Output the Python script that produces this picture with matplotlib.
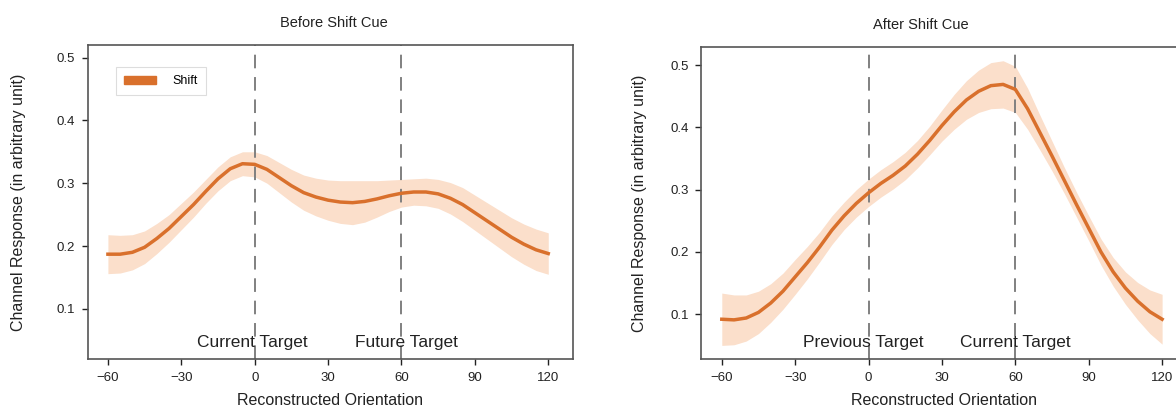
import matplotlib.pyplot as plt
from matplotlib.patches import Patch

plt.rcParams['font.family'] = ['Liberation Sans', 'DejaVu Sans']

orient = list(range(-60, 121, 5))

before_mean = [0.187, 0.187, 0.190, 0.198, 0.212, 0.228, 0.247, 0.266, 0.287, 0.307,
               0.323, 0.331, 0.330, 0.322, 0.309, 0.296, 0.285, 0.278, 0.273, 0.270,
               0.269, 0.271, 0.275, 0.280, 0.284, 0.286, 0.286, 0.283, 0.276, 0.266,
               0.253, 0.240, 0.227, 0.214, 0.203, 0.194, 0.188]
before_upper = [0.218, 0.217, 0.218, 0.224, 0.236, 0.250, 0.268, 0.286, 0.306, 0.326,
                0.342, 0.350, 0.350, 0.344, 0.333, 0.322, 0.313, 0.308, 0.305, 0.304,
                0.304, 0.304, 0.304, 0.305, 0.306, 0.307, 0.308, 0.306, 0.301, 0.293,
                0.281, 0.269, 0.257, 0.245, 0.235, 0.227, 0.221]
before_lower = [0.156, 0.157, 0.162, 0.172, 0.188, 0.206, 0.226, 0.246, 0.268, 0.288,
                0.304, 0.312, 0.310, 0.300, 0.285, 0.270, 0.257, 0.248, 0.241, 0.236,
                0.234, 0.238, 0.246, 0.255, 0.262, 0.265, 0.264, 0.260, 0.251, 0.239,
                0.225, 0.211, 0.197, 0.183, 0.171, 0.161, 0.155]

after_mean = [0.092, 0.091, 0.094, 0.103, 0.118, 0.137, 0.160, 0.183, 0.208, 0.235,
              0.258, 0.278, 0.295, 0.310, 0.323, 0.338, 0.357, 0.379, 0.403, 0.425,
              0.444, 0.458, 0.467, 0.469, 0.461, 0.430, 0.392, 0.354, 0.315, 0.276,
              0.238, 0.200, 0.168, 0.142, 0.121, 0.104, 0.092]
after_upper = [0.134, 0.131, 0.131, 0.137, 0.149, 0.166, 0.188, 0.209, 0.232, 0.258,
               0.280, 0.300, 0.317, 0.332, 0.345, 0.360, 0.379, 0.402, 0.428, 0.453,
               0.475, 0.492, 0.504, 0.507, 0.498, 0.463, 0.420, 0.378, 0.336, 0.296,
               0.258, 0.221, 0.191, 0.168, 0.151, 0.139, 0.132]
after_lower = [0.050, 0.051, 0.057, 0.069, 0.087, 0.108, 0.132, 0.157, 0.184, 0.212,
               0.236, 0.256, 0.273, 0.288, 0.301, 0.316, 0.335, 0.356, 0.378, 0.397,
               0.413, 0.424, 0.430, 0.431, 0.424, 0.397, 0.364, 0.330, 0.294, 0.256,
               0.218, 0.179, 0.145, 0.116, 0.091, 0.069, 0.052]

xticks = [-60, -30, 0, 30, 60, 90, 120]
yticks = [0.1, 0.2, 0.3, 0.4, 0.5]

line_c = '#d9702c'
band_c = '#fbdfcb'
grey = '#808080'

fig = plt.figure(figsize=(11.76, 4.09), dpi=100)
ax1 = fig.add_axes([0.0745, 0.122, 0.4125, 0.768])
ax2 = fig.add_axes([0.5965, 0.122, 0.4125, 0.763])


def panel(ax, mean, lo, hi, title, tx, labels, ylim, ypad):
    ax.fill_between(orient, lo, hi, color=band_c, lw=0, zorder=1)
    ax.plot(orient, mean, color=line_c, lw=2.5, zorder=3,
            solid_joinstyle='round')
    for v in (0, 60):
        ax.axvline(v, color=grey, lw=1.4, dashes=(7, 4.5), zorder=2)
    for (x, txt) in labels:
        ax.text(x, ylim[0] + 0.026, txt, ha='center', va='center',
                fontsize=12.5, color='#222222', zorder=4)
    ax.set_xlim(-68.3, 130)
    ax.set_ylim(*ylim)
    ax.set_xticks(xticks)
    ax.set_xticklabels([str(t).replace('-', '\u2212') for t in xticks])
    ax.set_yticks(yticks)
    ax.tick_params(labelsize=9.5, colors='#222222', length=4, width=1,
                   direction='out', pad=5)
    for s in ax.spines.values():
        s.set_color('#555555')
        s.set_linewidth(1.2)
    ax.set_title(title, fontsize=10.5, x=tx, pad=13, color='#222222')
    ax.set_xlabel('Reconstructed Orientation', fontsize=11.5, color='#222222',
                  labelpad=7)
    ax.set_ylabel('Channel Response (in arbitrary unit)', fontsize=11.5,
                  color='#222222', labelpad=ypad)


panel(ax1, before_mean, before_lower, before_upper, 'Before Shift Cue', 0.507,
      [(-1, 'Current Target'), (62, 'Future Target')], (0.02, 0.52), 22)
panel(ax2, after_mean, after_lower, after_upper, 'After Shift Cue', 0.453,
      [(-2, 'Previous Target'), (60, 'Current Target')], (0.028, 0.529), 17)

leg = ax1.legend(handles=[Patch(color=line_c, label='Shift')],
                 loc='upper left', bbox_to_anchor=(0.045, 0.95),
                 fontsize=9, fancybox=False, framealpha=1,
                 edgecolor='#dddddd', handlelength=2.6, handleheight=0.65,
                 borderpad=0.65, handletextpad=1.3)
leg.get_frame().set_linewidth(0.8)

fig.savefig('out.png', dpi=100)
